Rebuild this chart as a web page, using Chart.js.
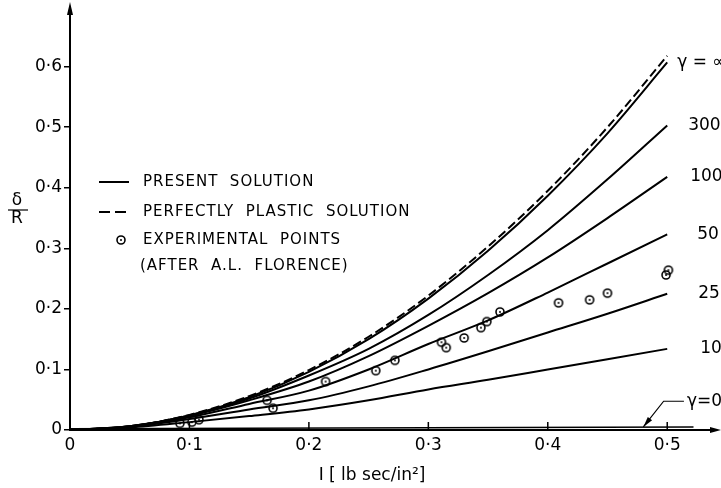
<!DOCTYPE html>
<html>
<head>
<meta charset="utf-8">
<script src="https://cdn.jsdelivr.net/npm/chart.js@4.4.1/dist/chart.umd.min.js"></script>
<style>
  html, body { margin: 0; padding: 0; background: #fff; }
  #wrap { width: 721px; height: 488px; }
</style>
</head>
<body>
<div id="wrap"><canvas id="chart" width="721" height="488"></canvas></div>
<script>
// impulse I [lb sec/in^2] sample positions for the curves
const impulse = [0, 0.05, 0.1, 0.15, 0.2, 0.25, 0.3, 0.35, 0.4, 0.45, 0.5];

// perfectly plastic solution (dashed)
const plasticDefl = [0, 0.006, 0.025, 0.056, 0.099, 0.154, 0.222, 0.303, 0.395, 0.500, 0.618];

// present solution, one curve per gamma
const gammaInf = [0, 0.006, 0.024, 0.054, 0.096, 0.150, 0.217, 0.296, 0.387, 0.490, 0.607];
const gamma300 = [0, 0.006, 0.024, 0.052, 0.090, 0.134, 0.190, 0.256, 0.330, 0.414, 0.503];
const gamma100 = [0, 0.006, 0.023, 0.049, 0.080, 0.122, 0.172, 0.226, 0.285, 0.350, 0.418];
const gamma50  = [0, 0.005, 0.021, 0.043, 0.065, 0.100, 0.142, 0.181, 0.227, 0.275, 0.323];
const gamma25  = [0, 0.005, 0.018, 0.034, 0.049, 0.072, 0.100, 0.130, 0.161, 0.192, 0.225];
const gamma10  = [0, 0.004, 0.013, 0.023, 0.034, 0.049, 0.067, 0.083, 0.100, 0.117, 0.134];
const gamma0I  = [0, 0.522];
const gamma0   = [0.002, 0.005];

const curveLabels = ['γ = ∞', '300', '100', '50', '25', '10'];

// experimental points (after A.L. Florence)
const expI    = [0.092, 0.102, 0.108, 0.165, 0.170, 0.214, 0.256, 0.272, 0.311, 0.315, 0.330, 0.344, 0.349, 0.360, 0.409, 0.435, 0.450, 0.499, 0.501];
const expDefl = [0.011, 0.013, 0.017, 0.049, 0.036, 0.080, 0.098, 0.115, 0.145, 0.136, 0.152, 0.169, 0.179, 0.195, 0.210, 0.215, 0.226, 0.256, 0.264];

const xTicks = [0, 0.1, 0.2, 0.3, 0.4, 0.5];
const xTickLabels = ['0', '0·1', '0·2', '0·3', '0·4', '0·5'];
const yTicks = [0, 0.1, 0.2, 0.3, 0.4, 0.5, 0.6];
const yTickLabels = ['0', '0·1', '0·2', '0·3', '0·4', '0·5', '0·6'];

const FONT = "'DejaVu Sans', sans-serif";

function pairs(xs, ys) {
    return xs.map((x, i) => ({ x: x, y: ys[i] }));
}

// circle with a dot in the middle, like the drawing
function makeRingPoint() {
    const c = document.createElement('canvas');
    c.width = 12; c.height = 12;
    const g = c.getContext('2d');
    g.strokeStyle = '#000';
    g.lineWidth = 1.6;
    g.beginPath();
    g.arc(6, 6, 4, 0, Math.PI * 2);
    g.stroke();
    g.fillStyle = '#000';
    g.beginPath();
    g.arc(6, 6, 1, 0, Math.PI * 2);
    g.fill();
    return c;
}
const ring = makeRingPoint();

function curve(label, ys, dashed) {
    return {
        label: label,
        data: pairs(impulse, ys),
        borderColor: '#000',
        borderWidth: 2,
        borderDash: dashed ? [9, 4] : [],
        pointRadius: 0,
        fill: false,
        tension: 0.4,
        cubicInterpolationMode: 'monotone'
    };
}

// extra drawing: arrows, inward ticks, curve labels, legend, axis titles
const decorations = {
    id: 'decorations',
    afterDraw(chart) {
        const ctx = chart.ctx;
        const xs = chart.scales.x;
        const ys = chart.scales.y;
        const x0 = xs.getPixelForValue(0);
        const y0 = ys.getPixelForValue(0);
        ctx.save();
        ctx.fillStyle = '#000';
        ctx.strokeStyle = '#000';

        // axis arrows
        ctx.beginPath();
        ctx.moveTo(x0, 2);
        ctx.lineTo(x0 - 3, 15);
        ctx.lineTo(x0 + 3, 15);
        ctx.closePath();
        ctx.fill();
        ctx.beginPath();
        ctx.moveTo(721, y0);
        ctx.lineTo(710, y0 - 3);
        ctx.lineTo(710, y0 + 3);
        ctx.closePath();
        ctx.fill();

        // x ticks point into the plot
        ctx.lineWidth = 1.5;
        xTicks.slice(1).forEach(v => {
            const px = xs.getPixelForValue(v);
            ctx.beginPath();
            ctx.moveTo(px, y0);
            ctx.lineTo(px, y0 - 8);
            ctx.stroke();
        });

        // curve labels on the right
        ctx.font = '17px ' + FONT;
        ctx.textBaseline = 'middle';
        ctx.textAlign = 'left';
        const ends = [gammaInf, gamma300, gamma100, gamma50, gamma25, gamma10];
        const offs = [10, 21, 23, 30, 31, 33];
        const xe = xs.getPixelForValue(0.5);
        ends.forEach((arr, i) => {
            ctx.fillText(curveLabels[i], xe + offs[i], ys.getPixelForValue(arr[arr.length - 1]));
        });

        // gamma = 0 leader
        const tipX = xs.getPixelForValue(0.48), tipY = ys.getPixelForValue(0.005);
        const elbX = xs.getPixelForValue(0.497), elbY = ys.getPixelForValue(0.0475);
        const endX = xs.getPixelForValue(0.514);
        ctx.lineWidth = 1.2;
        ctx.beginPath();
        ctx.moveTo(tipX, tipY);
        ctx.lineTo(elbX, elbY);
        ctx.lineTo(endX, elbY);
        ctx.stroke();
        const ang = Math.atan2(elbY - tipY, elbX - tipX);
        ctx.beginPath();
        ctx.moveTo(tipX, tipY);
        ctx.lineTo(tipX + 11 * Math.cos(ang - 0.25), tipY + 11 * Math.sin(ang - 0.25));
        ctx.lineTo(tipX + 11 * Math.cos(ang + 0.25), tipY + 11 * Math.sin(ang + 0.25));
        ctx.closePath();
        ctx.fill();
        ctx.fillText('γ=0', endX + 3, elbY);

        // legend
        ctx.font = '15px ' + FONT;
        ctx.letterSpacing = '1px';
        ctx.lineWidth = 2;
        ctx.beginPath();
        ctx.moveTo(99, 182); ctx.lineTo(129, 182);
        ctx.stroke();
        ctx.fillText('PRESENT  SOLUTION', 143, 182);
        ctx.setLineDash([11, 5]);
        ctx.beginPath();
        ctx.moveTo(99, 212); ctx.lineTo(129, 212);
        ctx.stroke();
        ctx.setLineDash([]);
        ctx.fillText('PERFECTLY  PLASTIC  SOLUTION', 143, 212);
        ctx.drawImage(ring, 115, 234);
        ctx.fillText('EXPERIMENTAL  POINTS', 143, 240);
        ctx.fillText('(AFTER  A.L.  FLORENCE)', 140, 266);

        // axis titles
        ctx.letterSpacing = '0px';
        ctx.font = '17px ' + FONT;
        ctx.textAlign = 'center';
        ctx.fillText('I [ lb sec/in²]', 372, 476);
        ctx.fillText('δ', 17, 201);
        ctx.fillText('R', 17, 219);
        ctx.lineWidth = 1.2;
        ctx.beginPath();
        ctx.moveTo(8, 210); ctx.lineTo(28, 210);
        ctx.stroke();
        ctx.restore();
    }
};

const datasets = [
    curve('Perfectly plastic solution', plasticDefl, true),
    curve('γ = ∞', gammaInf, false),
    curve('γ = 300', gamma300, false),
    curve('γ = 100', gamma100, false),
    curve('γ = 50', gamma50, false),
    curve('γ = 25', gamma25, false),
    curve('γ = 10', gamma10, false),
    {
        label: 'γ = 0',
        data: pairs(gamma0I, gamma0),
        borderColor: '#000',
        borderWidth: 1.5,
        pointRadius: 0,
        fill: false
    },
    {
        label: 'Experimental points',
        data: pairs(expI, expDefl),
        showLine: false,
        pointStyle: ring,
        pointRadius: 5
    }
];

new Chart(document.getElementById('chart'), {
    type: 'line',
    data: { datasets: datasets },
    options: {
        responsive: false,
        animation: false,
        layout: { padding: { top: 8, right: 1, left: 0, bottom: 0 } },
        plugins: {
            legend: { display: false },
            tooltip: { enabled: false }
        },
        scales: {
            x: {
                type: 'linear',
                min: 0,
                max: 0.54,
                afterFit: s => { s.height = 58; },
                afterBuildTicks: s => { s.ticks = xTicks.map(v => ({ value: v })); },
                border: { display: true, color: '#000', width: 2 },
                grid: { drawOnChartArea: false, drawTicks: false },
                ticks: {
                    padding: 5,
                    color: '#000',
                    font: { family: FONT, size: 17 },
                    maxRotation: 0,
                    callback: (v) => xTickLabels[xTicks.indexOf(Math.round(v * 10) / 10)]
                }
            },
            y: {
                type: 'linear',
                min: 0,
                max: 0.69,
                afterFit: s => { s.width = 70; },
                afterBuildTicks: s => { s.ticks = yTicks.map(v => ({ value: v })); },
                border: { display: true, color: '#000', width: 2 },
                grid: { drawOnChartArea: false, drawTicks: true, tickLength: 6, color: '#000', lineWidth: 1.5 },
                ticks: {
                    padding: 2,
                    color: '#000',
                    font: { family: FONT, size: 17 },
                    callback: (v) => yTickLabels[yTicks.indexOf(Math.round(v * 10) / 10)]
                }
            }
        }
    },
    plugins: [decorations]
});
</script>
</body>
</html>
